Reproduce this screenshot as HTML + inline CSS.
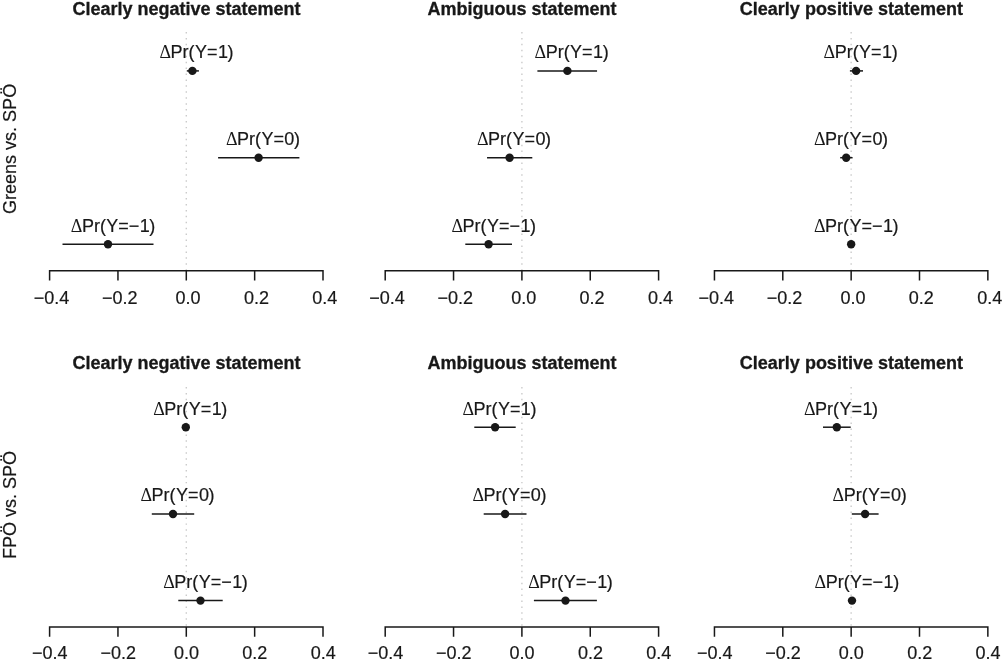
<!DOCTYPE html>
<html lang="en">
<head>
<meta charset="utf-8">
<title>Figure</title>
<style>
html,body{margin:0;padding:0;background:#fff;}
body{width:1002px;height:663px;overflow:hidden;}
svg{display:block;}
text{font-family:"Liberation Sans",Arial,Helvetica,sans-serif;font-size:18px;fill:#181818;stroke:#181818;stroke-width:0.2px;stroke-linejoin:round;}
.s{font-family:"Liberation Serif","Liberation Sans",serif;stroke-width:0;}
.t{font-weight:bold;text-anchor:middle;stroke-width:0.3px;}
.k{text-anchor:middle;}
.ax{stroke:#181818;stroke-width:1.5;fill:none;}
.ci{stroke:#181818;stroke-width:1.5;}
.z{stroke:#cbcbcb;stroke-width:1.4;stroke-dasharray:1.48 4.45;}
.d{fill:#181818;}
</style>
</head>
<body>
<svg width="1002" height="663" viewBox="0 0 1002 663">
<rect width="1002" height="663" fill="#fff"/>
<text transform="translate(16.4,148.9) rotate(-90)" text-anchor="middle">Greens vs. SPÖ</text>
<g>
<text class="t" x="186.5" y="15.4">Clearly negative statement</text>
<line class="z" x1="186.3" y1="32.0" x2="186.3" y2="270.7"/>
<line class="ci" x1="186.8" y1="70.9" x2="198.9" y2="70.9"/>
<circle class="d" cx="192.4" cy="70.9" r="4.2"/>
<text x="159.51" y="58.2"><tspan class="s">Δ</tspan><tspan dx="-0.5">Pr(</tspan><tspan dx="0.4">Y=</tspan><tspan dx="0.4">1</tspan><tspan dx="-0.4">)</tspan></text>
<line class="ci" x1="218.1" y1="157.7" x2="299.4" y2="157.7"/>
<circle class="d" cx="258.6" cy="157.7" r="4.2"/>
<text x="225.91" y="145.1"><tspan class="s">Δ</tspan><tspan dx="-0.5">Pr(</tspan><tspan dx="0.4">Y=</tspan><tspan dx="0.4">0</tspan><tspan dx="-0.4">)</tspan></text>
<line class="ci" x1="62.5" y1="244.3" x2="153.5" y2="244.3"/>
<circle class="d" cx="108.0" cy="244.3" r="4.2"/>
<text x="70.81" y="231.8"><tspan class="s">Δ</tspan><tspan dx="-0.5">Pr(</tspan><tspan dx="0.4">Y=−</tspan><tspan dx="0.4">1</tspan><tspan dx="-0.4">)</tspan></text>
<path class="ax" d="M49.60 280.6V270.7H323.00V280.6M117.95 270.7V280.6M186.30 270.7V280.6M254.65 270.7V280.6"/>
<text class="k" x="51.40" y="304.3">−0.4</text>
<text class="k" x="119.75" y="304.3">−0.2</text>
<text class="k" x="188.10" y="304.3">0.0</text>
<text class="k" x="256.45" y="304.3">0.2</text>
<text class="k" x="324.80" y="304.3">0.4</text>
</g>
<g>
<text class="t" x="522.1" y="15.4">Ambiguous statement</text>
<line class="z" x1="521.9" y1="32.0" x2="521.9" y2="270.7"/>
<line class="ci" x1="537.4" y1="70.9" x2="597.05" y2="70.9"/>
<circle class="d" cx="567.4" cy="70.9" r="4.2"/>
<text x="534.61" y="58.2"><tspan class="s">Δ</tspan><tspan dx="-0.5">Pr(</tspan><tspan dx="0.4">Y=</tspan><tspan dx="0.4">1</tspan><tspan dx="-0.4">)</tspan></text>
<line class="ci" x1="487.05" y1="157.7" x2="532.3" y2="157.7"/>
<circle class="d" cx="509.6" cy="157.7" r="4.2"/>
<text x="477.01" y="145.1"><tspan class="s">Δ</tspan><tspan dx="-0.5">Pr(</tspan><tspan dx="0.4">Y=</tspan><tspan dx="0.4">0</tspan><tspan dx="-0.4">)</tspan></text>
<line class="ci" x1="465.3" y1="244.3" x2="512.0" y2="244.3"/>
<circle class="d" cx="488.6" cy="244.3" r="4.2"/>
<text x="451.51" y="231.8"><tspan class="s">Δ</tspan><tspan dx="-0.5">Pr(</tspan><tspan dx="0.4">Y=−</tspan><tspan dx="0.4">1</tspan><tspan dx="-0.4">)</tspan></text>
<path class="ax" d="M385.20 280.6V270.7H658.60V280.6M453.55 270.7V280.6M521.90 270.7V280.6M590.25 270.7V280.6"/>
<text class="k" x="387.00" y="304.3">−0.4</text>
<text class="k" x="455.35" y="304.3">−0.2</text>
<text class="k" x="523.70" y="304.3">0.0</text>
<text class="k" x="592.05" y="304.3">0.2</text>
<text class="k" x="660.40" y="304.3">0.4</text>
</g>
<g>
<text class="t" x="851.4" y="15.4">Clearly positive statement</text>
<line class="z" x1="851.15" y1="32.0" x2="851.15" y2="270.7"/>
<line class="ci" x1="849.9" y1="70.9" x2="863.0" y2="70.9"/>
<circle class="d" cx="856.1" cy="70.9" r="4.2"/>
<text x="823.61" y="58.2"><tspan class="s">Δ</tspan><tspan dx="-0.5">Pr(</tspan><tspan dx="0.4">Y=</tspan><tspan dx="0.4">1</tspan><tspan dx="-0.4">)</tspan></text>
<line class="ci" x1="840.2" y1="157.7" x2="852.6" y2="157.7"/>
<circle class="d" cx="846.2" cy="157.7" r="4.2"/>
<text x="814.01" y="145.1"><tspan class="s">Δ</tspan><tspan dx="-0.5">Pr(</tspan><tspan dx="0.4">Y=</tspan><tspan dx="0.4">0</tspan><tspan dx="-0.4">)</tspan></text>
<circle class="d" cx="851.15" cy="244.3" r="4.2"/>
<text x="814.01" y="231.8"><tspan class="s">Δ</tspan><tspan dx="-0.5">Pr(</tspan><tspan dx="0.4">Y=−</tspan><tspan dx="0.4">1</tspan><tspan dx="-0.4">)</tspan></text>
<path class="ax" d="M714.45 280.6V270.7H987.85V280.6M782.80 270.7V280.6M851.15 270.7V280.6M919.50 270.7V280.6"/>
<text class="k" x="716.25" y="304.3">−0.4</text>
<text class="k" x="784.60" y="304.3">−0.2</text>
<text class="k" x="852.95" y="304.3">0.0</text>
<text class="k" x="921.30" y="304.3">0.2</text>
<text class="k" x="989.65" y="304.3">0.4</text>
</g>
<text transform="translate(16.4,505.0) rotate(-90)" text-anchor="middle">FPÖ vs. SPÖ</text>
<g>
<text class="t" x="186.5" y="369.4">Clearly negative statement</text>
<line class="z" x1="186.3" y1="387.0" x2="186.3" y2="627.0"/>
<circle class="d" cx="185.8" cy="427.2" r="4.2"/>
<text x="153.26" y="414.8"><tspan class="s">Δ</tspan><tspan dx="-0.5">Pr(</tspan><tspan dx="0.4">Y=</tspan><tspan dx="0.4">1</tspan><tspan dx="-0.4">)</tspan></text>
<line class="ci" x1="151.8" y1="514.0" x2="194.2" y2="514.0"/>
<circle class="d" cx="173.0" cy="514.0" r="4.2"/>
<text x="140.51" y="501.45"><tspan class="s">Δ</tspan><tspan dx="-0.5">Pr(</tspan><tspan dx="0.4">Y=</tspan><tspan dx="0.4">0</tspan><tspan dx="-0.4">)</tspan></text>
<line class="ci" x1="178.3" y1="600.6" x2="222.7" y2="600.6"/>
<circle class="d" cx="200.5" cy="600.6" r="4.2"/>
<text x="163.26" y="587.6"><tspan class="s">Δ</tspan><tspan dx="-0.5">Pr(</tspan><tspan dx="0.4">Y=−</tspan><tspan dx="0.4">1</tspan><tspan dx="-0.4">)</tspan></text>
<path class="ax" d="M49.60 636.8V627.0H323.00V636.8M117.95 627.0V636.8M186.30 627.0V636.8M254.65 627.0V636.8"/>
<text class="k" x="49.80" y="658.6">−0.4</text>
<text class="k" x="118.15" y="658.6">−0.2</text>
<text class="k" x="186.50" y="658.6">0.0</text>
<text class="k" x="254.85" y="658.6">0.2</text>
<text class="k" x="323.20" y="658.6">0.4</text>
</g>
<g>
<text class="t" x="522.1" y="369.4">Ambiguous statement</text>
<line class="z" x1="521.9" y1="387.0" x2="521.9" y2="627.0"/>
<line class="ci" x1="474.3" y1="427.2" x2="515.7" y2="427.2"/>
<circle class="d" cx="495.1" cy="427.2" r="4.2"/>
<text x="462.41" y="414.8"><tspan class="s">Δ</tspan><tspan dx="-0.5">Pr(</tspan><tspan dx="0.4">Y=</tspan><tspan dx="0.4">1</tspan><tspan dx="-0.4">)</tspan></text>
<line class="ci" x1="483.7" y1="514.0" x2="526.5" y2="514.0"/>
<circle class="d" cx="505.1" cy="514.0" r="4.2"/>
<text x="472.41" y="501.45"><tspan class="s">Δ</tspan><tspan dx="-0.5">Pr(</tspan><tspan dx="0.4">Y=</tspan><tspan dx="0.4">0</tspan><tspan dx="-0.4">)</tspan></text>
<line class="ci" x1="533.9" y1="600.6" x2="596.9" y2="600.6"/>
<circle class="d" cx="565.5" cy="600.6" r="4.2"/>
<text x="528.26" y="587.6"><tspan class="s">Δ</tspan><tspan dx="-0.5">Pr(</tspan><tspan dx="0.4">Y=−</tspan><tspan dx="0.4">1</tspan><tspan dx="-0.4">)</tspan></text>
<path class="ax" d="M385.20 636.8V627.0H658.60V636.8M453.55 627.0V636.8M521.90 627.0V636.8M590.25 627.0V636.8"/>
<text class="k" x="385.40" y="658.6">−0.4</text>
<text class="k" x="453.75" y="658.6">−0.2</text>
<text class="k" x="522.10" y="658.6">0.0</text>
<text class="k" x="590.45" y="658.6">0.2</text>
<text class="k" x="658.80" y="658.6">0.4</text>
</g>
<g>
<text class="t" x="851.4" y="369.4">Clearly positive statement</text>
<line class="z" x1="851.15" y1="387.0" x2="851.15" y2="627.0"/>
<line class="ci" x1="823.0" y1="427.2" x2="850.7" y2="427.2"/>
<circle class="d" cx="836.8" cy="427.2" r="4.2"/>
<text x="804.01" y="414.8"><tspan class="s">Δ</tspan><tspan dx="-0.5">Pr(</tspan><tspan dx="0.4">Y=</tspan><tspan dx="0.4">1</tspan><tspan dx="-0.4">)</tspan></text>
<line class="ci" x1="851.8" y1="514.0" x2="878.6" y2="514.0"/>
<circle class="d" cx="865.1" cy="514.0" r="4.2"/>
<text x="832.61" y="501.45"><tspan class="s">Δ</tspan><tspan dx="-0.5">Pr(</tspan><tspan dx="0.4">Y=</tspan><tspan dx="0.4">0</tspan><tspan dx="-0.4">)</tspan></text>
<circle class="d" cx="852.0" cy="600.6" r="4.2"/>
<text x="814.61" y="587.6"><tspan class="s">Δ</tspan><tspan dx="-0.5">Pr(</tspan><tspan dx="0.4">Y=−</tspan><tspan dx="0.4">1</tspan><tspan dx="-0.4">)</tspan></text>
<path class="ax" d="M714.45 636.8V627.0H987.85V636.8M782.80 627.0V636.8M851.15 627.0V636.8M919.50 627.0V636.8"/>
<text class="k" x="714.65" y="658.6">−0.4</text>
<text class="k" x="783.00" y="658.6">−0.2</text>
<text class="k" x="851.35" y="658.6">0.0</text>
<text class="k" x="919.70" y="658.6">0.2</text>
<text class="k" x="988.05" y="658.6">0.4</text>
</g>
</svg>
</body>
</html>
